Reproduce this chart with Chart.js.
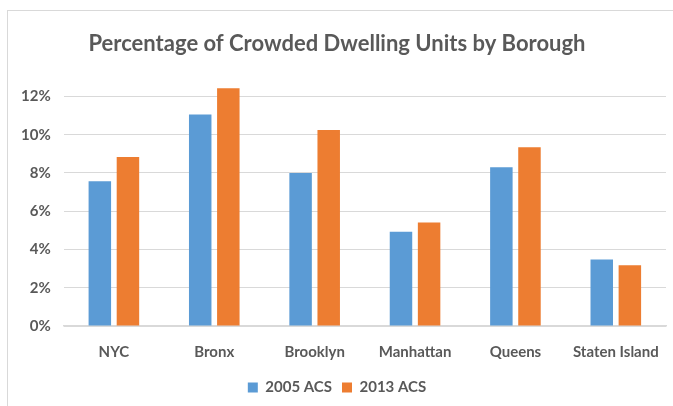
<!DOCTYPE html>
<html>
<head>
<meta charset="utf-8">
<script src="https://cdn.jsdelivr.net/npm/chart.js@4"></script>
<style>
  body { margin: 0; background: #fff; overflow: hidden; }
  #frame {
    position: absolute; left: 7px; top: 10px;
    width: 700px; height: 420px;
    border: 1px solid #d9d9d9;
  }
  #wrap { position: absolute; left: 0; top: 0; width: 665px; height: 395px; }
</style>
</head>
<body>
<div id="frame">
  <div id="wrap"><canvas id="crowdChart"></canvas></div>
</div>
<script>
// crowded dwelling units, share of all units
boroughs = ["NYC", "Bronx", "Brooklyn", "Manhattan", "Queens", "Staten Island"]
acs_2005 = [0.0757, 0.1106, 0.0800, 0.0492, 0.0830, 0.0348]
acs_2013 = [0.0883, 0.1242, 0.1024, 0.0541, 0.0934, 0.0318]

gray = "#595959"
font_family = "Lato, 'Open Sans', sans-serif"

ctx = document.getElementById("crowdChart")

crowdChart = new Chart(ctx, {
  type: 'bar',
  data: {
    labels: boroughs,
    datasets: [{
      label: '2005 ACS',
      data: acs_2005,
      backgroundColor: '#5b9bd5',
      clip: false
    }, {
      label: '2013 ACS',
      data: acs_2013,
      backgroundColor: '#ed7d31',
      clip: false
    }]
  },
  options: {
    responsive: true,
    maintainAspectRatio: false,
    animation: false,
    categoryPercentage: 0.56,
    barPercentage: 0.8,
    layout: { padding: { left: 0, right: 7, top: 0, bottom: 1 } },
    plugins: {
      title: {
        display: true,
        text: 'Percentage of Crowded Dwelling Units by Borough',
        color: gray,
        font: { family: font_family, size: 22, weight: 'bold' },
        padding: { top: 20, bottom: 39 }
      },
      legend: {
        position: 'bottom',
        labels: {
          color: gray,
          boxWidth: 10,
          boxHeight: 10,
          padding: 10,
          font: { family: font_family, size: 15, weight: 'bold' }
        }
      },
      tooltip: { enabled: false }
    },
    scales: {
      x: {
        grid: { display: false },
        border: { color: '#d9d9d9', width: 1.5 },
        ticks: {
          color: gray,
          padding: 9,
          font: { family: font_family, size: 15, weight: 'bold' }
        }
      },
      y: {
        min: 0,
        max: 0.12,
        border: { display: false },
        grid: { color: '#d9d9d9', drawTicks: false },
        ticks: {
          stepSize: 0.02,
          color: gray,
          padding: 13,
          font: { family: font_family, size: 15, weight: 'bold' },
          callback: function(v) { return Math.round(v * 100) + '%' }
        }
      }
    }
  }
});
</script>
</body>
</html>
